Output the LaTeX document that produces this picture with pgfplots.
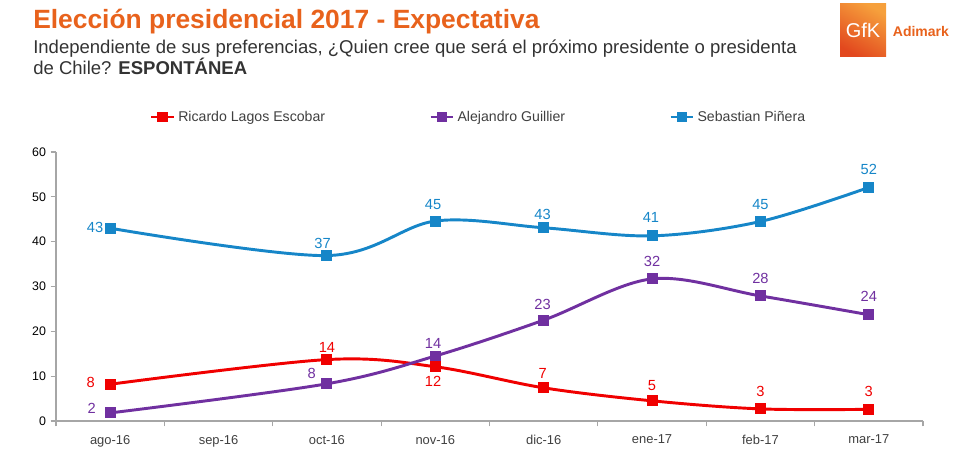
\documentclass[border=0pt]{standalone}
\usepackage{fontspec}
\setmainfont{Liberation Sans}
\usepackage{pgfplots}
\pgfplotsset{compat=1.18}
\definecolor{tit}{RGB}{232,98,28}
\definecolor{subt}{RGB}{51,51,51}
\definecolor{lagoscol}{RGB}{240,0,0}
\definecolor{guilcol}{RGB}{112,48,160}
\definecolor{pinecol}{RGB}{22,134,200}
\definecolor{axgray}{RGB}{166,166,166}
\definecolor{lblgray}{RGB}{64,64,64}
\definecolor{logoA}{RGB}{226,72,30}
\definecolor{logoB}{RGB}{246,160,60}
\begin{document}
\begin{tikzpicture}
\path[use as bounding box] (0pt,0pt) rectangle (717.75pt,-349.5pt);
% title
\node[anchor=base west, inner sep=0pt, text=tit, font=\fontsize{19.8}{22}\selectfont\bfseries] at (24.75pt,-21.5pt) {Elección presidencial 2017 - Expectativa};
\node[anchor=base west, inner sep=0pt, text=subt, font=\fontsize{13.9}{16}\selectfont] at (24.75pt,-40.5pt) {Independiente de sus preferencias, ¿Quien cree que será el próximo presidente o presidenta};
\node[anchor=base west, inner sep=0pt, text=subt, font=\fontsize{13.9}{16}\selectfont] at (24.75pt,-55.75pt) {de Chile? \textbf{ESPONTÁNEA}};
% logo
\shade[bottom color=logoA, top color=logoB, shading angle=-30] (630pt,-3pt) rectangle (664.5pt,-42.75pt);
\node[text=white, font=\fontsize{15}{15}\selectfont, inner sep=0pt] at (647.25pt,-23pt) {GfK};
\node[anchor=west, text=tit, font=\fontsize{10.5}{11}\selectfont\bfseries, inner sep=0pt] at (669.5pt,-23.5pt) {Adimark};
\begin{axis}[
  at={(42pt,-315.75pt)}, anchor=south west,
  scale only axis, width=650.25pt, height=201.75pt,
  xmin=-0.5, xmax=7.5, ymin=0, ymax=60,
  axis lines*=left,
  axis line style={axgray, line width=0.9pt},
  every outer x axis line/.append style={-},
  every outer y axis line/.append style={-},
  xtick={0,...,7},
  xticklabels={ago-16,sep-16,oct-16,nov-16,dic-16,ene-17,feb-17,mar-17},
  major x tick style={draw=none},
  minor xtick={-0.5,0.5,...,7.5},
  minor tick length=4pt,
  minor x tick style={axgray, line width=0.8pt},
  ytick={0,10,...,60},
  major tick length=4pt,
  y tick style={axgray, line width=0.8pt},
  tick align=outside,
  tick pos=left,
  x tick label style={font=\fontsize{9.7}{10}\selectfont, text=lblgray, yshift=-3pt},
  y tick label style={font=\fontsize{9.3}{10}\selectfont, text=black},
  /pgf/number format/assume math mode=true,
  clip=false,
  legend columns=3,
  legend style={at={(rel axis cs:0.108,1.13)}, anchor=west, draw=none, inner sep=0pt,
    font=\fontsize{10.6}{11}\selectfont, text=lblgray,
    /tikz/every even column/.append style={column sep=76pt}},
  legend cell align=left,
  every axis plot/.append style={line width=2.2pt, smooth, tension=0.55, mark=square*, mark size=3pt, mark options={solid, line width=0.5pt}},
]
\addplot[color=lagoscol, mark options={fill=lagoscol}] coordinates {(0,8.2) (2,13.7) (3,12.1) (4,7.4) (5,4.5) (6,2.7) (7,2.6)};
\addlegendentry{Ricardo Lagos Escobar}
\addplot[color=guilcol, mark options={fill=guilcol}] coordinates {(0,1.8) (2,8.3) (3,14.5) (4,22.5) (5,31.7) (6,27.9) (7,23.7)};
\addlegendentry{Alejandro Guillier}
\addplot[color=pinecol, mark options={fill=pinecol}] coordinates {(0,43.0) (2,36.9) (3,44.6) (4,43.1) (5,41.3) (6,44.5) (7,52.1)};
\addlegendentry{Sebastian Piñera}
% data labels
\begin{scope}[every node/.style={font=\fontsize{11}{12}\selectfont, inner sep=0pt}]
\node[text=pinecol] at (axis cs:-0.14,43.1) {43};
\node[text=pinecol] at (axis cs:1.96,39.7) {37};
\node[text=pinecol] at (axis cs:2.98,48.2) {45};
\node[text=pinecol] at (axis cs:3.99,46.0) {43};
\node[text=pinecol] at (axis cs:4.99,45.3) {41};
\node[text=pinecol] at (axis cs:6.0,48.2) {45};
\node[text=pinecol] at (axis cs:7.0,56.0) {52};
\node[text=guilcol] at (axis cs:-0.17,2.9) {2};
\node[text=guilcol] at (axis cs:1.86,10.5) {8};
\node[text=guilcol] at (axis cs:2.98,17.4) {14};
\node[text=guilcol] at (axis cs:3.99,25.9) {23};
\node[text=guilcol] at (axis cs:5.0,35.5) {32};
\node[text=guilcol] at (axis cs:6.0,31.7) {28};
\node[text=guilcol] at (axis cs:7.0,27.7) {24};
\node[text=lagoscol] at (axis cs:-0.18,8.7) {8};
\node[text=lagoscol] at (axis cs:2.0,16.5) {14};
\node[text=lagoscol] at (axis cs:2.98,8.9) {12};
\node[text=lagoscol] at (axis cs:3.99,10.7) {7};
\node[text=lagoscol] at (axis cs:5.0,8.0) {5};
\node[text=lagoscol] at (axis cs:6.0,6.5) {3};
\node[text=lagoscol] at (axis cs:7.0,6.5) {3};
\end{scope}
\end{axis}
\end{tikzpicture}
\end{document}
